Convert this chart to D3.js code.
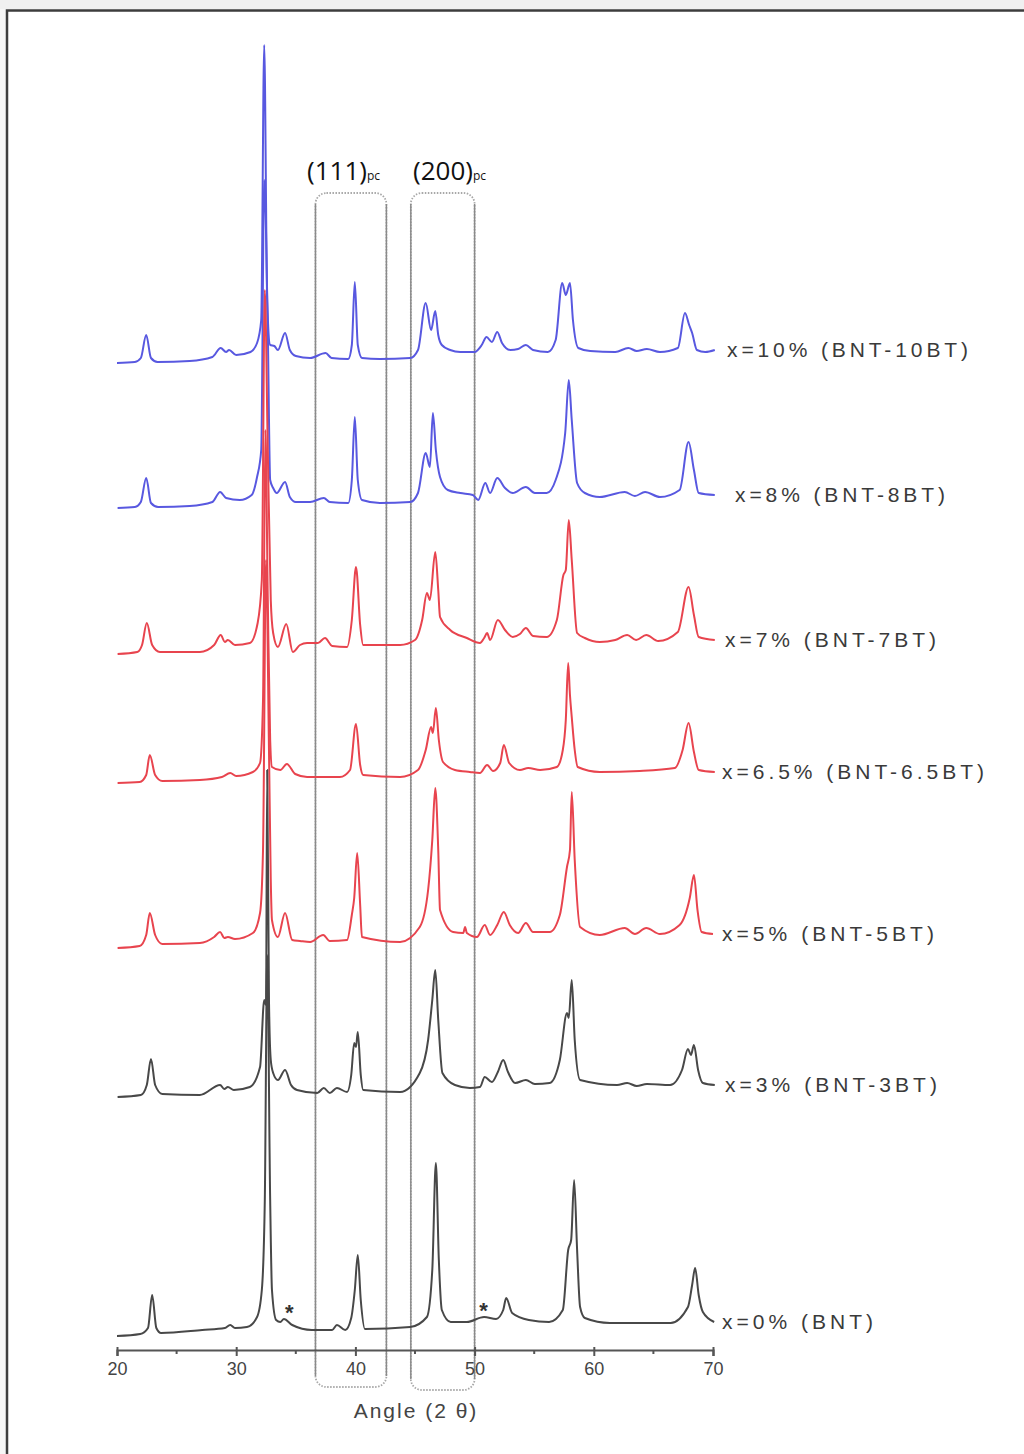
<!DOCTYPE html>
<html>
<head>
<meta charset="utf-8">
<script src="https://cdn.jsdelivr.net/npm/d3@7/dist/d3.min.js"></script>
<style>
  html, body { margin: 0; padding: 0; background: #ffffff; }
  svg { display: block; }
</style>
</head>
<body>
<svg id="chart" width="1024" height="1454"></svg>
<script>
// XRD patterns of (1-x)BNT-xBT ceramics, stacked with vertical offsets.
// Each point: [2θ (deg), offset intensity (a.u.)]

const samples = ["x=10% (BNT-10BT)", "x=8% (BNT-8BT)", "x=7% (BNT-7BT)", "x=6.5% (BNT-6.5BT)",
                 "x=5% (BNT-5BT)", "x=3% (BNT-3BT)", "x=0% (BNT)"];

const bt10 = [[20.0,987],[21.5,988],[22.0,992],[22.45,1015],[22.85,992],[23.4,988],[26.1,989],[28.0,993],
  [28.7,1002],[29.15,998],[29.4,1000],[30.0,995],[31.2,998],[31.75,1007],[32.1,1030],[32.35,1305],[32.6,1050],
  [32.85,1005],[33.2,1004],[33.5,1000],[34.1,1017],[34.5,1000],[35.0,994],[36.2,992],[37.5,997],[38.0,992],
  [39.4,991],[39.7,1005],[39.95,1068],[40.2,1005],[40.55,992],[42.05,991],[44.6,992],[45.25,1000],[45.9,1047],
  [46.35,1020],[46.7,1039],[46.95,1015],[47.25,1005],[47.95,1000],[48.8,998],[50.0,998],[50.6,1005],[51.0,1013],
  [51.45,1008],[51.9,1018],[52.3,1007],[53.0,1000],[53.65,1001],[54.3,1005],[54.9,1000],[56.15,998],[56.8,1010],
  [57.35,1067],[57.65,1055],[58.0,1067],[58.25,1030],[58.7,1002],[59.7,999],[61.8,998],[62.9,1002],[63.6,999],
  [64.45,1001],[65.55,998],[67.05,1002],[67.65,1037],[68.0,1025],[68.25,1017],[68.65,1000],[69.35,998],[70.15,1000]];

const bt8 = [[20.05,842],[21.5,843],[22.0,848],[22.45,872],[22.85,847],[23.45,843],[26.1,844],[28.0,848],
  [28.65,858],[29.15,852],[30.3,850],[31.3,855],[31.75,873],[32.1,900],[32.35,1170],[32.65,1020],[32.85,870],
  [33.1,862],[33.4,857],[34.1,868],[34.5,853],[35.0,848],[36.2,848],[37.35,852],[37.85,848],[39.4,847],
  [39.7,870],[39.95,933],[40.2,870],[40.55,850],[42.05,847],[44.6,848],[45.25,857],[45.9,897],[46.25,883],
  [46.5,937],[46.75,900],[47.1,873],[47.75,860],[48.8,857],[49.85,855],[50.3,850],[50.9,867],[51.3,857],
  [51.9,872],[52.55,862],[53.2,857],[54.3,863],[55.05,857],[56.05,857],[56.8,870],[57.6,917],[57.9,970],
  [58.15,930],[58.6,867],[59.25,857],[60.5,853],[62.6,858],[63.45,854],[64.3,858],[65.55,853],[67.2,860],
  [67.95,908],[68.4,880],[68.8,857],[70.15,855]];

const bt7 = [[20.05,696],[21.7,698],[22.1,705],[22.5,727],[22.95,705],[23.6,698],[26.95,698],[28.15,705],
  [28.7,715],[29.05,708],[29.3,710],[29.9,705],[31.15,707],[31.8,727],[32.15,770],[32.4,1060],[32.65,900],
  [32.9,750],[33.1,717],[33.5,703],[34.2,726],[34.75,698],[35.35,705],[35.95,707],[36.85,707],[37.45,712],
  [38.05,704],[39.3,703],[39.7,730],[40.05,783],[40.4,725],[40.65,705],[43.75,705],[45.0,710],[45.6,730],
  [46.0,757],[46.25,750],[46.7,798],[46.95,760],[47.1,733],[47.95,720],[49.35,712],[50.45,707],[50.8,712],
  [51.05,717],[51.3,710],[51.95,730],[52.55,720],[53.2,713],[53.8,716],[54.3,722],[54.9,714],[56.05,713],
  [56.9,730],[57.45,775],[57.65,780],[57.9,830],[58.15,790],[58.6,717],[59.25,712],[60.5,708],[61.8,710],
  [62.8,715],[63.55,710],[64.4,715],[65.4,709],[67.05,718],[67.95,763],[68.4,735],[68.8,713],[70.15,710]];

const bt65 = [[20.05,567],[21.9,568],[22.45,575],[22.75,595],[23.2,575],[23.8,569],[26.95,570],[28.8,573],
  [29.5,577],[30.0,574],[31.4,578],[32.0,587],[32.25,650],[32.45,920],[32.65,750],[32.85,610],[33.0,583],
  [33.7,580],[34.25,586],[34.95,576],[35.95,573],[38.7,573],[39.55,580],[40.05,626],[40.4,585],[40.65,575],
  [43.75,573],[45.25,580],[45.9,600],[46.35,623],[46.5,617],[46.75,642],[47.0,610],[47.35,588],[48.35,580],
  [49.6,578],[50.45,577],[51.05,585],[51.55,579],[52.15,587],[52.45,605],[52.9,587],[53.8,580],[54.5,582],
  [55.5,580],[56.9,583],[57.4,600],[57.65,630],[57.85,687],[58.0,655],[58.15,633],[58.4,600],[58.65,583],
  [60.5,578],[63.85,579],[66.8,582],[67.45,600],[67.95,627],[68.4,598],[68.8,580],[70.15,578]];

const bt5 = [[20.05,402],[21.9,404],[22.45,415],[22.75,437],[23.2,415],[23.8,406],[26.95,407],[28.15,413],
  [28.65,418],[29.0,412],[29.3,413],[29.9,411],[31.4,417],[32.0,437],[32.25,500],[32.5,790],[32.75,600],
  [32.9,470],[33.0,430],[33.5,413],[34.1,437],[34.7,410],[35.35,409],[36.2,408],[37.3,415],[37.85,409],
  [39.3,410],[39.7,435],[39.9,452],[40.15,497],[40.4,445],[40.55,413],[43.75,408],[45.4,423],[46.1,460],
  [46.45,510],[46.7,562],[46.95,500],[47.1,440],[48.2,418],[49.05,417],[49.2,423],[49.35,417],[50.2,413],
  [50.85,425],[51.3,415],[51.9,425],[52.45,438],[52.95,425],[53.65,417],[54.3,427],[54.9,418],[56.3,418],
  [57.15,435],[57.75,483],[58.0,500],[58.15,558],[58.4,490],[58.85,423],[60.5,415],[62.6,422],[63.45,416],
  [64.4,422],[65.55,416],[67.2,425],[68.05,452],[68.4,475],[68.7,440],[69.05,418],[70.0,416]];

const bt3 = [[20.05,253],[22.0,255],[22.5,265],[22.85,291],[23.2,265],[23.8,256],[26.95,255],[28.65,265],
  [29.0,261],[29.3,263],[29.8,260],[31.15,263],[32.0,283],[32.35,350],[32.5,345],[32.6,580],[32.75,350],
  [32.9,290],[33.1,277],[33.5,270],[34.1,280],[34.6,265],[35.1,260],[36.8,257],[37.35,262],[37.85,257],
  [38.45,262],[39.3,258],[39.65,275],[39.9,307],[40.05,303],[40.2,318],[40.45,275],[40.65,260],[43.75,258],
  [45.4,277],[46.1,310],[46.45,350],[46.7,380],[46.95,330],[47.3,277],[48.35,265],[49.6,262],[50.45,263],
  [50.85,273],[51.45,268],[51.95,278],[52.4,290],[52.8,278],[53.4,267],[54.3,270],[55.05,266],[56.3,267],
  [57.15,290],[57.75,337],[57.9,332],[58.15,370],[58.4,310],[58.85,270],[61.95,265],[62.8,267],[63.6,264],
  [64.45,266],[66.4,265],[67.4,280],[67.9,301],[68.15,295],[68.4,305],[68.75,280],[69.15,267],[70.15,265]];

const bt0 = [[20.0,14],[21.95,16],[22.6,22],[22.95,55],[23.3,22],[23.7,17],[27.15,20],[29.05,22],[29.5,25],
  [29.9,22],[30.9,23],[31.75,33],[32.15,60],[32.4,150],[32.6,395],[32.85,150],[33.0,60],[33.35,30],[33.7,28],
  [34.0,31],[34.7,25],[36.35,20],[38.05,20],[38.45,25],[39.15,20],[39.65,32],[39.95,60],[40.2,95],[40.45,50],
  [40.8,21],[44.6,23],[46.0,33],[46.45,80],[46.75,187],[47.0,90],[47.25,40],[48.0,28],[49.35,28],[50.8,33],
  [51.8,31],[52.4,40],[52.65,52],[53.15,37],[54.55,30],[56.25,28],[57.4,40],[57.85,100],[58.1,110],[58.35,170],
  [58.6,100],[58.85,43],[59.25,32],[61.35,27],[66.45,27],[67.9,43],[68.25,65],[68.5,82],[68.8,55],[69.15,38],
  [70.1,28]];

const patterns = [bt10, bt8, bt7, bt65, bt5, bt3, bt0];
const seriesColors = ["#5858e0", "#5858e0", "#e8444e", "#e8444e", "#e8444e", "#484848", "#484848"];

// impurity reflections marked with an asterisk on the BNT pattern
const impurityPeaks = [[34.45, 31], [50.75, 33]];

const xTicks = [20, 30, 40, 50, 60, 70];
const xMinorTicks = [25, 35, 45, 55, 65];

// pseudo-cubic reflections highlighted by the boxes: [label, 2θ from, 2θ to]
const reflections = [["(111)", 36.65, 42.6], ["(200)", 44.65, 50.0]];

// ---- layout ----
const svg = d3.select("#chart");
const W = 1024, H = 1454;
const x = d3.scaleLinear().domain([20, 70]).range([117, 713]);
const y = d3.scaleLinear().domain([0, 1310]).range([1350, 40]);

// outer frame
svg.append("rect").attr("x", 0).attr("y", 0).attr("width", W).attr("height", 9).attr("fill", "#f0f0f0");
svg.append("rect").attr("x", 0).attr("y", 9).attr("width", 6).attr("height", H).attr("fill", "#f6f6f6");
svg.append("rect")
  .attr("x", 7).attr("y", 10.5).attr("width", W + 20).attr("height", H + 20)
  .attr("fill", "none").attr("stroke", "#3d3d3d").attr("stroke-width", 2.5);

// highlight boxes (dotted rounded rectangles with solid sides)
const boxTop = 193, boxBottoms = [1387, 1390];
reflections.forEach(([lab, a, b], i) => {
  const x0 = x(a), x1 = x(b), bot = boxBottoms[i];
  svg.append("rect")
    .attr("x", x0).attr("y", boxTop).attr("width", x1 - x0).attr("height", bot - boxTop)
    .attr("rx", 11).attr("ry", 11)
    .attr("fill", "none").attr("stroke", "#a8a8a8").attr("stroke-width", 1.8)
    .attr("stroke-dasharray", "1.5,1.5");
  [x0, x1].forEach(xx => {
    svg.append("line").attr("x1", xx).attr("x2", xx).attr("y1", boxTop + 11).attr("y2", bot - 11)
      .attr("stroke", "#8a8a8a").attr("stroke-width", 1.5);
  });
  const t = svg.append("text")
    .attr("x", i === 0 ? 307 : 413).attr("y", 180)
    .attr("font-family", "'Open Sans', sans-serif").attr("font-size", 26).attr("fill", "#111");
  t.append("tspan").text(lab);
  t.append("tspan").attr("font-size", 12).text("pc");
});

// patterns
const line = d3.line().x(d => x(d[0])).y(d => y(d[1])).curve(d3.curveMonotoneX);
patterns.forEach((p, i) => {
  svg.append("path")
    .datum(p)
    .attr("d", line)
    .attr("fill", "none")
    .attr("stroke", seriesColors[i])
    .attr("stroke-width", 2)
    .attr("stroke-linejoin", "round");
});

// sample labels at the right end of each pattern
const labelX = [727, 735, 725, 722, 722, 725, 722];
const labelW = [241, 210, 211, 262, 212, 212, 151];
samples.forEach((s, i) => {
  const p = patterns[i];
  const yEnd = y(p[p.length - 1][1]);
  svg.append("text")
    .attr("x", labelX[i]).attr("y", yEnd + 7)
    .attr("font-family", "'Liberation Sans', Arial, sans-serif").attr("font-size", 21)
    .attr("fill", "#3a3a3a")
    .attr("textLength", labelW[i]).attr("lengthAdjust", "spacing")
    .text(s);
});

// asterisks
impurityPeaks.forEach(([a, v]) => {
  svg.append("text")
    .attr("x", x(a)).attr("y", y(v) + 1)
    .attr("text-anchor", "middle")
    .attr("font-family", "'Liberation Sans', Arial, sans-serif").attr("font-size", 22).attr("font-weight", "bold")
    .attr("fill", "#333").text("*");
});

// x axis
const axisY = 1350;
const gAxis = svg.append("g").attr("transform", `translate(0,${axisY})`);
gAxis.call(d3.axisBottom(x).tickValues(xTicks).tickSize(6).tickPadding(6).tickFormat(d3.format("d")));
gAxis.select(".domain").attr("stroke", "#555").attr("stroke-width", 2.2);
gAxis.selectAll(".tick line").attr("stroke", "#555").attr("stroke-width", 2).attr("y1", -3);
gAxis.selectAll(".tick text")
  .attr("font-family", "'Liberation Sans', Arial, sans-serif").attr("font-size", 18).attr("fill", "#444");
gAxis.selectAll(".minor").data(xMinorTicks).enter().append("line")
  .attr("class", "minor")
  .attr("x1", d => x(d)).attr("x2", d => x(d)).attr("y1", 0).attr("y2", 4)
  .attr("stroke", "#555").attr("stroke-width", 2);

svg.append("text")
  .attr("x", x(45) + 1).attr("y", 1418)
  .attr("text-anchor", "middle")
  .attr("font-family", "'Liberation Sans', Arial, sans-serif").attr("font-size", 21)
  .attr("letter-spacing", 2)
  .attr("fill", "#444").text("Angle (2 θ)");
</script>
</body>
</html>
